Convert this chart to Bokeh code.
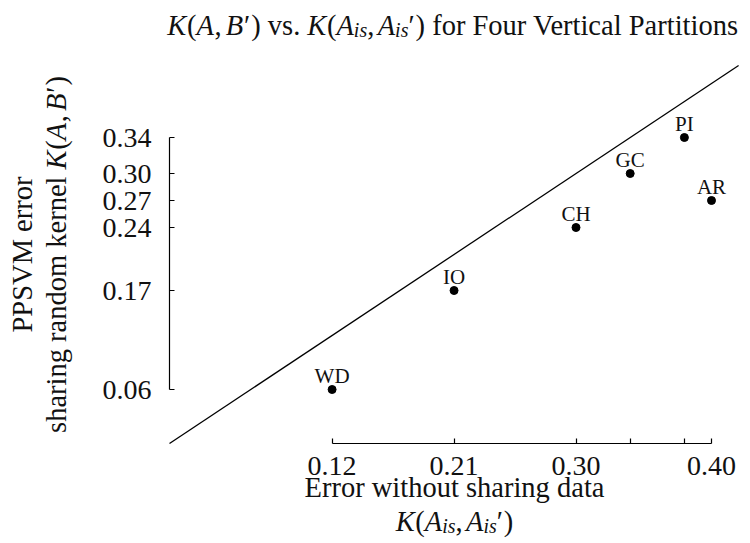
import math
from bokeh.plotting import figure
from bokeh.models import Label, FixedTicker, ColumnDataSource
from bokeh.core.properties import value
from bokeh.embed import file_html
from bokeh.resources import INLINE

# ---- data ----
names = ["WD", "IO", "CH", "GC", "PI", "AR"]
err_no_share = [0.12, 0.21, 0.30, 0.34, 0.38, 0.40]   # K(A_is, A_is')
err_ppsvm = [0.06, 0.17, 0.24, 0.30, 0.34, 0.27]      # K(A, B')
x_ticks = [0.12, 0.21, 0.30, 0.34, 0.38, 0.40]
x_tick_labels = ["0.12", "0.21", "0.30", " ", " ", "0.40"]
y_ticks = [0.06, 0.17, 0.24, 0.27, 0.30, 0.34]
y_tick_labels = ["0.06", "0.17", "0.24", "0.27", "0.30", "0.34"]
diag = [0.0, 0.42]

FONT = "Liberation Serif"
IFONT = "Liberation Serif, DejaVu Serif, serif"
INK = "#111111"
W, H = 750, 543
X0PX, Y0PX = 169.0, 443.0      # pixel position of the data origin
XS, YS = 1355.0, 900.0          # pixels per data unit
BSHIFT = 0.4                    # baseline correction (em)

p = figure(width=W, height=H,
           x_range=(-X0PX / XS, (W - X0PX) / XS),
           y_range=(-(H - Y0PX) / YS, Y0PX / YS),
           output_backend="svg", toolbar_location=None,
           min_border=0, min_border_left=0, min_border_right=0,
           min_border_top=0, min_border_bottom=0)
p.title.visible = False
p.outline_line_color = None
p.xgrid.visible = False
p.ygrid.visible = False
p.background_fill_color = "white"
p.border_fill_color = "white"

p.line(diag, diag, line_color="black", line_width=1.3)
src = ColumnDataSource(dict(x=err_no_share, y=err_ppsvm, name=names))
p.scatter("x", "y", source=src, size=8, color="black")
p.text("x", "y", text="name", source=src, text_font=value(FONT),
       text_font_size="21px", text_align="center", text_baseline="alphabetic",
       y_offset=-14, text_color=INK)

for ax, ticks, labs in ((p.xaxis[0], x_ticks, x_tick_labels), (p.yaxis[0], y_ticks, y_tick_labels)):
    ax.fixed_location = 0
    ax.ticker = FixedTicker(ticks=ticks)
    ax.major_label_overrides = {t: l for t, l in zip(ticks, labs)}
    ax.bounds = (min(ticks), max(ticks))
    ax.major_tick_in = 5
    ax.major_tick_out = 0
    ax.minor_tick_in = 0
    ax.minor_tick_out = 0
    ax.axis_line_color = "black"
    ax.axis_line_width = 1.2
    ax.major_tick_line_color = "black"
    ax.major_tick_line_width = 1.2
    ax.major_label_text_font = FONT
    ax.major_label_text_font_size = "28px"
    ax.major_label_text_color = INK
p.xaxis.major_label_standoff = 6
p.yaxis.major_label_standoff = 18

# ---- composed math-like text ----
REG = {' ': 250, '(': 333, ')': 333, ',': 250, '.': 250, '\u2032': 250,
       'a': 444, 'b': 500, 'c': 444, 'd': 500, 'e': 444, 'f': 333, 'g': 500, 'h': 500,
       'i': 278, 'k': 500, 'l': 278, 'm': 778, 'n': 500, 'o': 500, 'r': 333, 's': 389,
       't': 278, 'u': 500, 'v': 500, 'w': 722,
       'A': 722, 'B': 667, 'E': 611, 'F': 556, 'K': 722, 'M': 889, 'P': 556, 'S': 556, 'V': 722}
ITA = {'K': 667, 'A': 611, 'B': 611, 'i': 278, 's': 389}


def tw(s, it, size):
    t = ITA if it else REG
    return sum(t.get(c, 500) for c in s) / 1000.0 * size


def px2x(px):
    return (px - X0PX) / XS


def py2y(py):
    return (Y0PX - py) / YS


def lab(x, y, text, size, it, angle=0.0):
    p.add_layout(Label(x=px2x(x), y=py2y(y), text=text,
                       text_font=IFONT if it else FONT,
                       text_font_size=f"{size:.1f}px",
                       text_font_style="italic" if it else "normal",
                       text_baseline="alphabetic", text_align="left",
                       text_color=INK, angle=angle))


def run_h(parts, xc, base, size):
    total = sum(tw(t, it, size * sc) + gap * size for t, it, sc, dy, gap in parts)
    x = xc - total / 2
    for t, it, sc, dy, gap in parts:
        lab(x, base - BSHIFT * size + dy * size, t, size * sc, it)
        x += tw(t, it, size * sc) + gap * size


def run_v(parts, base_x, yc, size):
    total = sum(tw(t, it, size * sc) + gap * size for t, it, sc, dy, gap in parts)
    y = yc + total / 2
    for t, it, sc, dy, gap in parts:
        lab(base_x - BSHIFT * size + dy * size, y, t, size * sc, it, angle=math.pi / 2)
        y -= tw(t, it, size * sc) + gap * size


KAB = [("K", True, 1, 0, 0.02), ("(", False, 1, 0, 0), ("A", True, 1, 0, 0.02),
       (",", False, 1, 0, 0.15), ("B", True, 1, 0, 0.03), ("\u2032", False, 1, 0, 0),
       (")", False, 1, 0, 0)]
KAIS = [("K", True, 1, 0, 0.02), ("(", False, 1, 0, 0), ("A", True, 1, 0, 0),
        ("is", True, 0.7, 0.18, 0.0), (",", False, 1, 0, 0.12), ("A", True, 1, 0, 0),
        ("is", True, 0.7, 0.18, 0.0), ("\u2032", False, 1, 0, 0), (")", False, 1, 0, 0)]

AX_CX = 454      # horizontal centre of the axes box (px)
AX_CY = 254      # vertical centre of the axes box (px)

# title
title_parts = (KAB[:-1] + [(")", False, 1, 0, 0.25), ("vs.", False, 1, 0, 0.25)] +
               KAIS[:-1] + [(")", False, 1, 0, 0.25),
                            ("for Four Vertical Partitions", False, 1, 0, 0)])
run_h(title_parts, AX_CX, 36, 28.5)

# x label
run_h([("Error without sharing data", False, 1, 0, 0)], AX_CX, 498, 28.5)
run_h(KAIS, AX_CX, 532, 28.5)

# y label
run_v([("PPSVM error", False, 1, 0, 0)], 33, AX_CY, 28.5)
run_v([("sharing random kernel", False, 1, 0, 0.25)] + KAB, 67, AX_CY, 28.5)

open("out.html", "w").write(file_html(p, INLINE))
